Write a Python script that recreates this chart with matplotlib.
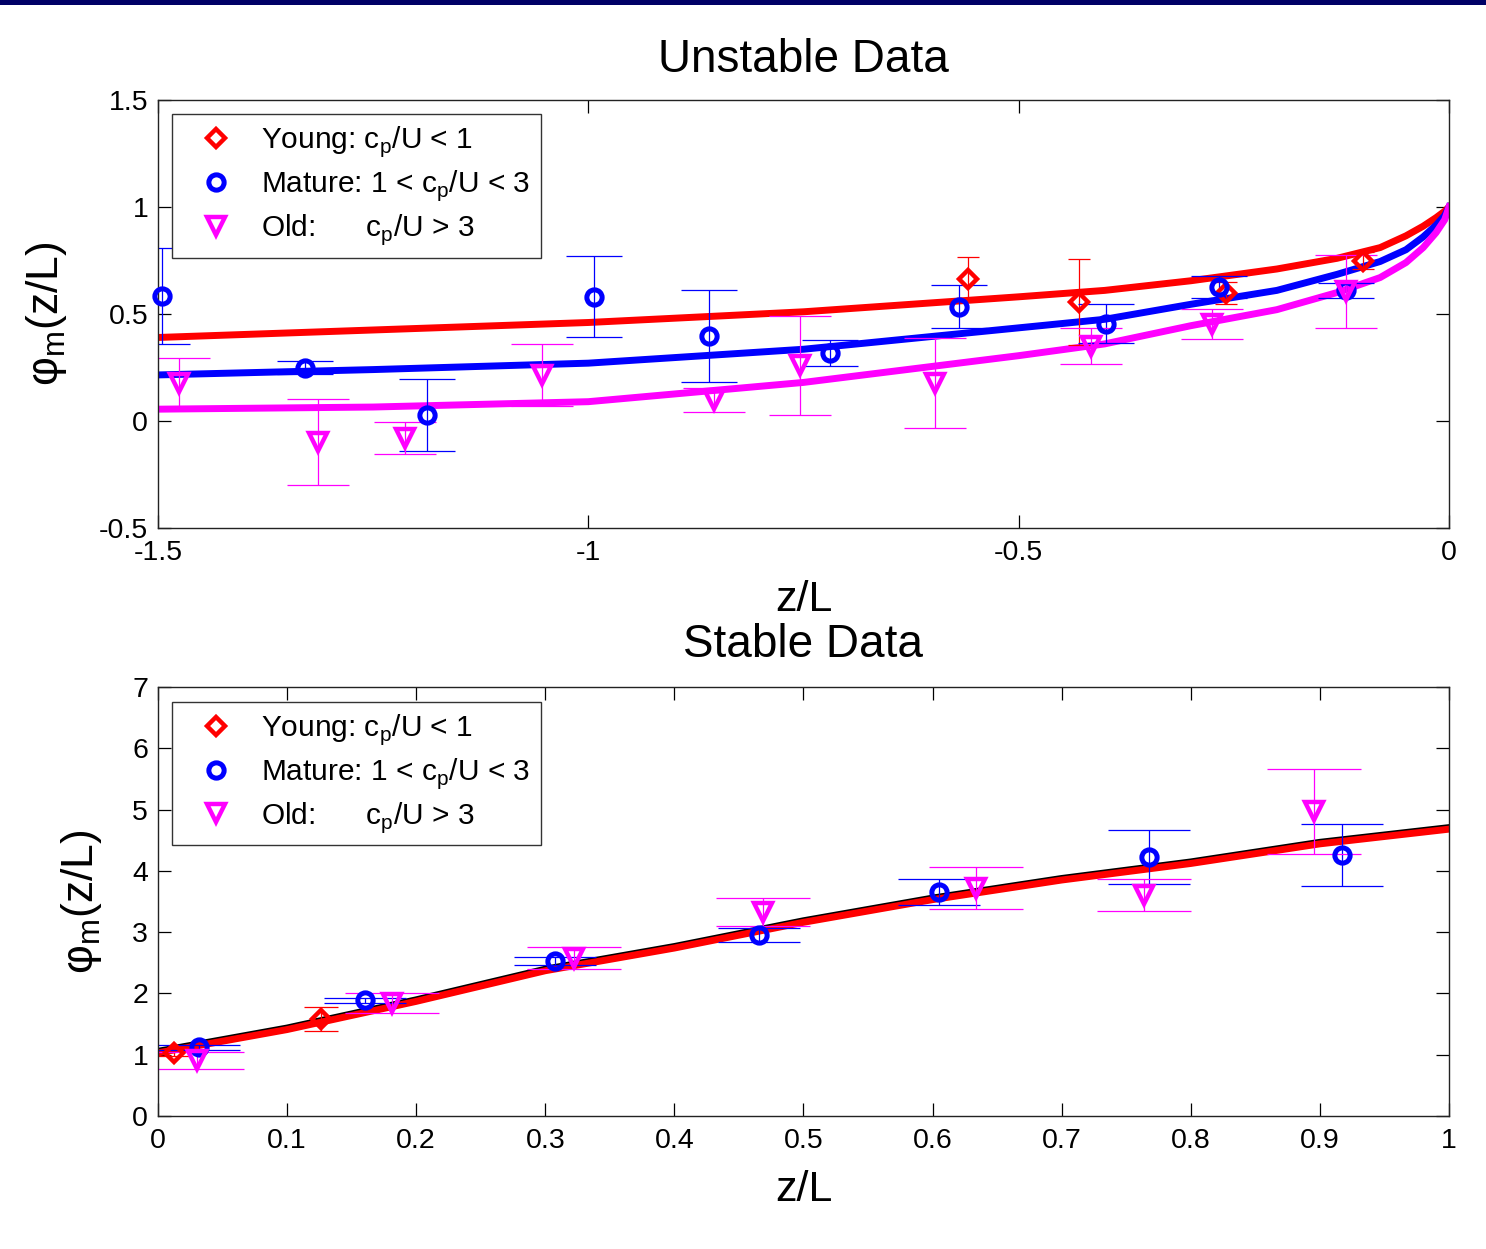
import matplotlib
matplotlib.use("Agg")
import matplotlib.pyplot as plt
from matplotlib.patches import Rectangle

plt.rcParams['font.family'] = ['Liberation Sans', 'DejaVu Sans']
plt.rcParams['axes.unicode_minus'] = False

# ---------------- Unstable data (top) ----------------
young_u_x = [-0.559, -0.43, -0.259, -0.10]
young_u_y = [0.664, 0.556, 0.598, 0.748]
young_u_e = [0.10, 0.20, 0.05, 0.04]

mature_u_x = [-1.495, -1.329, -1.1875, -0.993, -0.86, -0.719, -0.569, -0.398, -0.267, -0.12]
mature_u_y = [0.584, 0.248, 0.028, 0.58, 0.397, 0.318, 0.533, 0.455, 0.626, 0.61]
mature_u_e = [0.225, 0.03, 0.17, 0.19, 0.215, 0.06, 0.10, 0.093, 0.05, 0.035]

old_u_x = [-1.476, -1.314, -1.213, -1.054, -0.854, -0.754, -0.597, -0.416, -0.275, -0.12]
old_u_y = [0.178, -0.098, -0.08, 0.215, 0.098, 0.26, 0.178, 0.35, 0.455, 0.605]
old_u_e = [0.115, 0.20, 0.075, 0.143, 0.057, 0.23, 0.21, 0.085, 0.07, 0.17]

curve_u_x = [-1.5, -1.25, -1.0, -0.75, -0.5, -0.4, -0.3, -0.2, -0.13, -0.08,
             -0.05, -0.03, -0.015, -0.005, 0.0]
curve_u_young = [0.39, 0.425, 0.46, 0.51, 0.58, 0.61, 0.655, 0.71, 0.76, 0.81,
                 0.865, 0.91, 0.95, 0.98, 1.0]
curve_u_mature = [0.215, 0.24, 0.27, 0.335, 0.435, 0.475, 0.545, 0.61, 0.685, 0.745,
                  0.80, 0.86, 0.915, 0.96, 1.0]
curve_u_old = [0.055, 0.065, 0.09, 0.18, 0.305, 0.36, 0.445, 0.52, 0.60, 0.67,
               0.74, 0.81, 0.88, 0.94, 1.0]

u_xticks = [-1.5, -1.0, -0.5, 0.0]
u_xticklabels = ['-1.5', '-1', '-0.5', '0']
u_yticks = [-0.5, 0.0, 0.5, 1.0, 1.5]
u_yticklabels = ['-0.5', '0', '0.5', '1', '1.5']

# ---------------- Stable data (bottom) ----------------
young_s_x = [0.0124, 0.126]
young_s_y = [1.02, 1.58]
young_s_e = [0.04, 0.19]

mature_s_x = [0.032, 0.160, 0.3075, 0.4655, 0.605, 0.768, 0.917]
mature_s_y = [1.12, 1.89, 2.53, 2.95, 3.66, 4.22, 4.26]
mature_s_e = [0.04, 0.04, 0.07, 0.11, 0.21, 0.44, 0.50]

old_s_x = [0.030, 0.181, 0.322, 0.469, 0.634, 0.764, 0.8955]
old_s_y = [0.91, 1.84, 2.57, 3.33, 3.72, 3.60, 4.97]
old_s_e = [0.14, 0.16, 0.18, 0.23, 0.34, 0.26, 0.69]

curve_s_x = [0.0, 0.1, 0.2, 0.3, 0.4, 0.5, 0.6, 0.7, 0.8, 0.9, 1.0]
curve_s_red = [1.03, 1.41, 1.87, 2.37, 2.74, 3.16, 3.53, 3.85, 4.12, 4.44, 4.68]
curve_s_black = [1.055, 1.435, 1.895, 2.395, 2.765, 3.185, 3.555, 3.875, 4.145, 4.465, 4.705]

s_xticks = [0, 0.1, 0.2, 0.3, 0.4, 0.5, 0.6, 0.7, 0.8, 0.9, 1.0]
s_xticklabels = ['0', '0.1', '0.2', '0.3', '0.4', '0.5', '0.6', '0.7', '0.8', '0.9', '1']
s_yticks = [0, 1, 2, 3, 4, 5, 6, 7]
s_yticklabels = ['0', '1', '2', '3', '4', '5', '6', '7']

labels = ['Young: c$_\\mathregular{p}$/U < 1',
          'Mature: 1 < c$_\\mathregular{p}$/U < 3',
          'Old:      c$_\\mathregular{p}$/U > 3']
ylab = '\u03c6$_\\mathregular{m}$(z/L)'

RED, BLUE, MAG = '#ff0000', '#0000ff', '#ff00ff'

fig = plt.figure(figsize=(14.86, 12.49), dpi=100)
fig.patches.append(Rectangle((0, 1 - 5 / 1249), 1, 5 / 1249, transform=fig.transFigure,
                             facecolor='#000066', edgecolor='none', zorder=10))

ax1 = fig.add_axes([0.1063, 0.5773, 0.8688, 0.3427])
ax2 = fig.add_axes([0.1063, 0.1065, 0.8688, 0.3435])

mk_young = dict(marker='D', ms=9.5, mew=3.2, mfc='none', mec=RED, ls='none', clip_on=False, zorder=4)
mk_mature = dict(marker='o', ms=11, mew=3.6, mfc='none', mec=BLUE, ls='none', clip_on=False, zorder=4)
mk_old = dict(marker='v', ms=12.5, mew=3.2, mfc='none', mec=MAG, ls='none', clip_on=False, zorder=4)


def draw(ax, sets, caps):
    handles = []
    for (x, y, e, color, mk, lab), cs in zip(sets, caps):
        # matplotlib cap length = 2 * capsize
        ax.errorbar(x, y, yerr=e, fmt='none', ecolor=color, elinewidth=0.9,
                    capsize=cs / 2.0, capthick=0.9, zorder=2.5)
        h, = ax.plot(x, y, label=lab, **mk)
        handles.append(h)
    return handles


def style(ax, xlim, ylim, xt, xtl, yt, ytl, title, ylab_x, xlab_y, title_y):
    ax.set_xlim(*xlim)
    ax.set_ylim(*ylim)
    ax.set_xticks(xt)
    ax.set_xticklabels(xtl)
    ax.set_yticks(yt)
    ax.set_yticklabels(ytl)
    ax.tick_params(direction='in', length=9.5, width=0.9, top=True, right=True,
                   labelsize=20.5, colors='black')
    ax.tick_params(axis='x', pad=9)
    ax.tick_params(axis='y', pad=7)
    for sp in ax.spines.values():
        sp.set_linewidth(1.0)
        sp.set_color('#222222')
    ax.set_title(title, fontsize=33, y=title_y, va='center', pad=0)
    ax.set_xlabel('z/L', fontsize=31, va='center')
    ax.xaxis.set_label_coords(0.5, xlab_y)
    ax.set_ylabel(ylab, fontsize=32, va='center')
    ax.yaxis.set_label_coords(ylab_x, 0.5)


def legend(ax, handles, anchor):
    leg = ax.legend(handles=handles, loc='upper left', bbox_to_anchor=anchor,
                    borderaxespad=0, fontsize=21.5, frameon=True, fancybox=False,
                    edgecolor='#333333', framealpha=1, borderpad=0.35,
                    handlelength=2.25, handletextpad=0.4, labelspacing=0.3)
    leg.get_frame().set_linewidth(1.0)


# Top
ax1.plot(curve_u_x, curve_u_young, color=RED, lw=5, zorder=2)
ax1.plot(curve_u_x, curve_u_mature, color=BLUE, lw=5, zorder=2)
ax1.plot(curve_u_x, curve_u_old, color=MAG, lw=5, zorder=2)
h1 = draw(ax1, [(young_u_x, young_u_y, young_u_e, RED, mk_young, labels[0]),
                (mature_u_x, mature_u_y, mature_u_e, BLUE, mk_mature, labels[1]),
                (old_u_x, old_u_y, old_u_e, MAG, mk_old, labels[2])],
          [15.8, 40.3, 44.6])
style(ax1, (-1.5, 0), (-0.5, 1.5), u_xticks, u_xticklabels, u_yticks, u_yticklabels,
      'Unstable Data', -0.086, -0.168, 1.093)
legend(ax1, h1, (0.0108, 0.967))

# Bottom
ax2.plot(curve_s_x, curve_s_black, color='black', lw=5, zorder=2)
ax2.plot(curve_s_x, curve_s_red, color=RED, lw=5, zorder=2.1)
h2 = draw(ax2, [(young_s_x, young_s_y, young_s_e, RED, mk_young, labels[0]),
                (mature_s_x, mature_s_y, mature_s_e, BLUE, mk_mature, labels[1]),
                (old_s_x, old_s_y, old_s_e, MAG, mk_old, labels[2])],
          [24.5, 59.7, 67.7])
style(ax2, (0, 1), (0, 7), s_xticks, s_xticklabels, s_yticks, s_yticklabels,
      'Stable Data', -0.0596, -0.172, 1.098)
legend(ax2, h2, (0.0108, 0.965))

fig.savefig('out.png', dpi=100)
